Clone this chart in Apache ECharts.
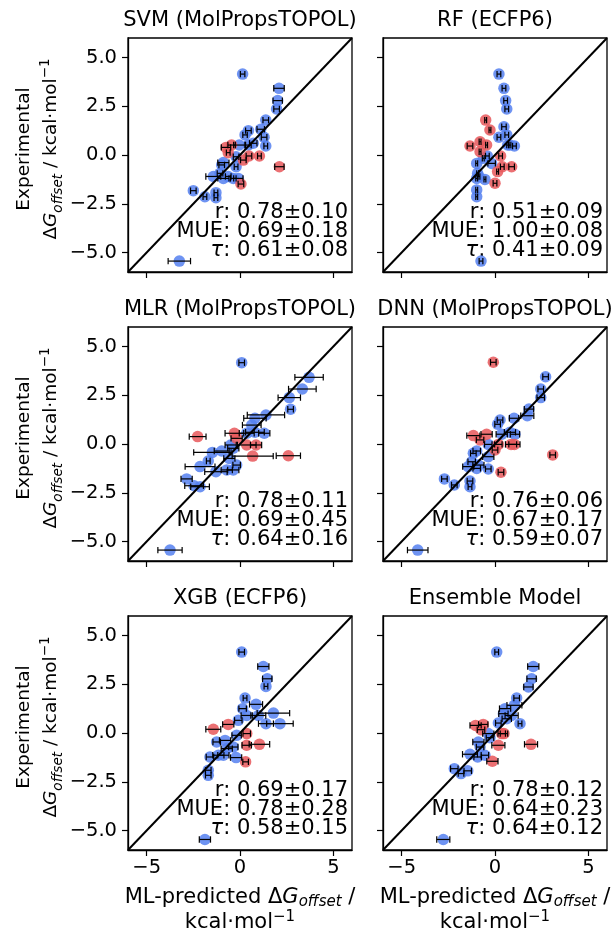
<!DOCTYPE html>
<html><head><meta charset="utf-8">
<script src="https://cdn.jsdelivr.net/npm/echarts@6/dist/echarts.min.js"></script>
<style>html,body{margin:0;padding:0;background:#fff}#c{width:614px;height:931px}</style>
</head><body><div id="c"></div>
<script>
// ---------- data ----------
const axisRange = [-6, 6];
const xTicks = [-5, 0, 5];
const yTicks = [-5, -2.5, 0, 2.5, 5];
const diagonal = [[-6, -6], [6, 6]];
const panelTitles = ['SVM (MolPropsTOPOL)', 'RF (ECFP6)', 'MLR (MolPropsTOPOL)', 'DNN (MolPropsTOPOL)', 'XGB (ECFP6)', 'Ensemble Model'];
const statR   = ['0.78±0.10', '0.51±0.09', '0.78±0.11', '0.76±0.06', '0.69±0.17', '0.78±0.12'];
const statMUE = ['0.69±0.18', '1.00±0.08', '0.69±0.45', '0.67±0.17', '0.78±0.28', '0.64±0.23'];
const statTau = ['0.61±0.08', '0.41±0.09', '0.64±0.16', '0.59±0.07', '0.58±0.15', '0.64±0.12'];
// each point: [ML-predicted, experimental, x-error]
const svmBlue = [[0.14,4.15,0.12],[2.09,3.42,0.28],[2.02,2.79,0.25],[1.96,2.36,0.15],[1.38,1.79,0.15],[1.11,1.32,0.2],[0.45,1.25,0.15],[0.27,1.03,0.12],[1.29,0.91,0.15],[1.38,0.46,0.1],[0.71,0.60,0.2],[0.45,0.51,0.15],[-0.04,0.51,0.3],[-0.21,-0.09,0.15],[-0.89,-0.39,0.3],[-0.98,-0.51,0.15],[-0.21,-0.60,0.1],[-1.07,-0.94,0.15],[-0.89,-1.2,0.3],[-1.43,-1.1,0.4],[-0.63,-1.1,0.15],[-0.36,-1.2,0.15],[-0.09,-1.2,0.25],[-2.5,-1.83,0.15],[-1.88,-2.14,0.1],[-1.29,-1.93,0.1],[-1.29,-2.19,0.1],[-3.25,-5.44,0.6]];
const svmRed = [[-0.75,0.39,0.25],[-0.45,0.51,0.2],[-0.63,0.12,0.1],[0.18,-0.26,0.15],[0.48,-0.05,0.15],[1.04,-0.05,0.1],[2.11,-0.60,0.25],[0.05,-1.49,0.15]];
const rfBlue = [[0.21,4.15,0.1],[0.48,3.42,0.1],[0.57,2.79,0.1],[0.63,2.36,0.1],[0.48,1.45,0.12],[0.21,0.91,0.1],[0.63,1.03,0.1],[0.68,0.51,0.05],[1.04,0.46,0.1],[0.80,0.51,0.05],[-0.41,-0.05,0.1],[-0.63,-0.17,0.05],[-0.18,-0.43,0.2],[-0.98,-0.43,0.05],[-0.93,-0.94,0.05],[-0.98,-1.2,0.05],[-0.54,-1.25,0.05],[-0.98,-1.79,0.05],[-0.98,-2.14,0.05],[-0.75,-5.44,0.1],[-0.86,-1.1,0.05]];
const rfRed = [[-0.5,1.79,0.05],[-0.27,1.28,0.05],[-0.8,0.68,0.05],[-1.34,0.46,0.15],[-0.45,0.51,0.05],[-0.8,0.17,0.05],[0.30,-0.05,0.1],[0.89,-0.60,0.15],[0.39,-0.60,0.1],[0.14,-0.85,0.05],[0,-1.45,0.1]];
const mlrBlue = [[0.09,4.17,0.15],[3.70,3.42,0.76],[3.34,2.82,0.74],[2.64,2.38,0.6],[2.71,1.78,0.15],[1.39,1.49,1.0],[0.80,1.32,0.6],[0.63,0.97,0.5],[0.36,0.55,0.4],[1.30,0.55,0.3],[0.80,0.6,0.5],[-0.5,-0.05,0.3],[-0.36,-0.22,0.3],[-0.98,-0.36,0.4],[-1.48,-0.43,1.0],[-1.7,-0.87,0.1],[-0.57,-0.74,0.3],[-2.14,-1.16,0.8],[-1.29,-1.42,0.6],[-0.71,-1.33,0.3],[-0.36,-1.33,0.3],[-0.18,-1.08,0.2],[-2.86,-1.79,0.3],[-2.46,-2.14,0.5],[-2.14,-2.19,0.5],[-3.75,-5.44,0.65]];
const mlrRed = [[-2.27,0.38,0.45],[-0.30,0.55,0.5],[-0.18,0.29,0.3],[0.36,-0.05,0.5],[0.86,-0.05,0.3],[0.68,-0.62,1.1],[2.59,-0.6,0.65]];
const dnnBlue = [[2.71,3.45,0.15],[2.45,2.82,0.15],[2.45,2.38,0.2],[1.82,1.79,0.25],[1.73,1.45,0.35],[1.02,1.32,0.25],[0.27,1.23,0.15],[0.14,1.01,0.15],[1.07,0.50,0.25],[0.80,0.6,0.3],[0.36,0.50,0.3],[-0.36,-0.02,0.2],[-0.98,-0.36,0.2],[-1.16,-0.48,0.15],[-0.36,-0.65,0.3],[-1.25,-0.91,0.2],[-1.43,-1.16,0.3],[-0.98,-1.25,0.2],[-0.36,-1.28,0.15],[-2.71,-1.79,0.15],[-2.18,-2.1,0.15],[-1.34,-1.9,0.15],[-1.34,-2.19,0.1],[-4.14,-5.44,0.55],[-0.89,-1.08,0.3]];
const dnnRed = [[-0.09,4.19,0.15],[-1.16,0.43,0.35],[-0.45,0.50,0.3],[-0.8,0.21,0.2],[0.18,-0.02,0.2],[0,-0.31,0.15],[0.86,-0.02,0.3],[1.04,-0.02,0.3],[3.09,-0.56,0.15],[0.32,-1.45,0.15]];
const xgbBlue = [[0.09,4.15,0.15],[1.25,3.41,0.3],[1.46,2.78,0.25],[1.39,2.39,0.1],[0.27,1.79,0.1],[0.86,1.47,0.35],[0.14,1.25,0.2],[1.79,1.02,0.87],[2.14,0.48,0.71],[1.39,0.48,0.4],[0.98,0.9,0.4],[0.36,0.9,0.3],[-0.09,0.65,0.2],[-0.18,-0.12,0.25],[-1.25,-0.46,0.2],[-0.8,-0.38,0.3],[-0.71,-0.8,0.3],[-0.36,-0.72,0.25],[-1.16,-1.14,0.3],[-1.61,-1.23,0.2],[-0.89,-1.14,0.3],[-0.21,-1.26,0.3],[-1.7,-1.91,0.15],[-1.7,-2.17,0.15],[-1.88,-5.46,0.3]];
const xgbRed = [[-1.43,0.19,0.4],[-0.63,0.44,0.3],[0.36,-0.03,0.2],[0.36,-0.63,0.25],[1.04,-0.58,0.55],[0.30,-1.48,0.15]];
const ensBlue = [[0.09,4.15,0.1],[2.05,3.41,0.3],[1.96,2.78,0.25],[1.79,2.36,0.25],[1.16,1.79,0.15],[1.04,1.42,0.4],[0.54,1.25,0.3],[0.45,0.99,0.25],[1.34,0.48,0.1],[0.89,0.9,0.35],[0.63,0.73,0.25],[0.18,0.51,0.15],[-0.36,-0.03,0.3],[-0.27,-0.24,0.2],[-0.89,-0.46,0.3],[-0.8,-0.72,0.2],[-1.34,-1.09,0.4],[-0.93,-1.23,0.2],[-0.54,-1.14,0.2],[-2.18,-1.83,0.2],[-1.82,-2.08,0.15],[-1.46,-1.94,0.2],[-2.77,-5.46,0.35]];
const ensRed = [[-1.04,0.39,0.3],[-0.63,0.44,0.25],[-0.75,0.17,0.2],[0.36,-0.03,0.2],[0.48,-0.03,0.2],[0.18,-0.63,0.35],[1.93,-0.58,0.35],[-0.14,-1.45,0.3]];

// ---------- layout / style ----------
const blueSets = [svmBlue, rfBlue, mlrBlue, dnnBlue, xgbBlue, ensBlue];
const redSets = [svmRed, rfRed, mlrRed, dnnRed, xgbRed, ensRed];
const FONT = 'DejaVu Sans';
const GL = [128, 383], GT = [38, 327, 616], GW = 224, GH = 234;
const BLUE = '#5580f0', RED = '#e8575a';
const minus = s => String(s).replace('-', '\u2212');

function makeRich(fs, sfs, lh) {
  return {
    d: {fontSize: fs, fontFamily: FONT, color: '#000', lineHeight: lh},
    g: {fontSize: fs, fontFamily: FONT, fontStyle: 'italic', color: '#000', lineHeight: lh},
    s: {fontSize: sfs, fontFamily: FONT, fontStyle: 'italic', color: '#000', lineHeight: sfs + 3, verticalAlign: 'bottom'},
    n: {fontSize: fs, fontFamily: FONT, color: '#000', lineHeight: lh},
    p: {fontSize: sfs, fontFamily: FONT, color: '#000', lineHeight: sfs + 3, verticalAlign: 'top'}
  };
}
const yName = 'Experimental\n{d|Δ}{g|G}{s|offset}{n| / kcal·mol}{p|\u22121}';
const xName = 'ML-predicted {d|Δ}{g|G}{s|offset}{n| /}\n{n|kcal·mol}{p|\u22121}';

function renderErr(params, api) {
  const x = api.value(0), y = api.value(1), e = api.value(2);
  const a = api.coord([x - e, y]), b = api.coord([x + e, y]);
  const c = 3.2, st = {stroke: '#000', lineWidth: 1.2};
  return {type: 'group', children: [
    {type: 'line', shape: {x1: a[0], y1: a[1], x2: b[0], y2: b[1]}, style: st},
    {type: 'line', shape: {x1: a[0], y1: a[1] - c, x2: a[0], y2: a[1] + c}, style: st},
    {type: 'line', shape: {x1: b[0], y1: b[1] - c, x2: b[0], y2: b[1] + c}, style: st}
  ]};
}

const grid = [], xAxis = [], yAxis = [], series = [], graphic = [];
for (let i = 0; i < 6; i++) {
  const row = Math.floor(i / 2), col = i % 2;
  const left = GL[col], top = GT[row];
  grid.push({left, top, width: GW, height: GH, containLabel: false, outerBoundsMode: 'none',
    show: true, borderColor: '#000', borderWidth: 1.3, backgroundColor: 'transparent'});
  xAxis.push({
    gridIndex: i, type: 'value', min: axisRange[0], max: axisRange[1],
    axisLine: {show: true, onZero: false, lineStyle: {color: '#000', width: 1.3}},
    axisTick: {show: true, customValues: xTicks, length: 6, lineStyle: {color: '#000', width: 1.2}},
    axisLabel: {show: row === 2, customValues: xTicks, margin: 8, fontSize: 19.5, fontFamily: FONT, color: '#000', formatter: v => minus(v)},
    splitLine: {show: false},
    name: row === 2 ? xName : '', nameLocation: 'middle', nameGap: 35,
    nameTextStyle: {fontSize: 21, fontFamily: FONT, color: '#000', lineHeight: 25, rich: makeRich(21, 15, 25)}
  });
  yAxis.push({
    gridIndex: i, type: 'value', min: axisRange[0], max: axisRange[1],
    axisLine: {show: true, onZero: false, lineStyle: {color: '#000', width: 1.3}},
    axisTick: {show: true, customValues: yTicks, length: 6, lineStyle: {color: '#000', width: 1.2}},
    axisLabel: {show: col === 0, customValues: yTicks, margin: 11, fontSize: 19.5, fontFamily: FONT, color: '#000', formatter: v => minus(Number(v).toFixed(1))},
    splitLine: {show: false},
    name: col === 0 ? yName : '', nameLocation: 'middle', nameGap: 63, nameRotate: 90,
    nameTextStyle: {fontSize: 18.5, fontFamily: FONT, color: '#000', lineHeight: 27, padding: [0, 0, 0, 12], rich: makeRich(18.5, 13.5, 27)}
  });
  const sets = [[blueSets[i], BLUE], [redSets[i], RED]];
  sets.forEach(([d, col2]) => {
    series.push({type: 'scatter', xAxisIndex: i, yAxisIndex: i, data: d.map(p => [p[0], p[1]]), symbolSize: 11.5,
      itemStyle: {color: col2, opacity: 0.85}, z: 2, silent: true});
  });
  sets.forEach(([d]) => {
    series.push({type: 'custom', xAxisIndex: i, yAxisIndex: i, data: d, renderItem: renderErr,
      encode: {x: 0, y: 1}, z: 3, silent: true});
  });
  series.push({type: 'line', xAxisIndex: i, yAxisIndex: i, data: diagonal, symbol: 'none',
    lineStyle: {color: '#000', width: 2}, z: 4, silent: true});

  graphic.push({type: 'text', x: left + GW / 2, y: top - 7, style: {text: panelTitles[i], textAlign: 'center', textVerticalAlign: 'bottom', fontSize: 21, fontFamily: FONT, fill: '#000'}});
  const sx = left + GW - 4;
  const lines = ['r: ' + statR[i], 'MUE: ' + statMUE[i], '{t|τ}: ' + statTau[i]];
  const offs = [185, 204.3, 223];
  lines.forEach((t, k) => {
    graphic.push({type: 'text', x: sx, y: top + offs[k], style: {text: t, textAlign: 'right', textVerticalAlign: 'bottom', fontSize: 21, fontFamily: FONT, fill: '#000',
      rich: {t: {fontSize: 21, fontFamily: FONT, fontStyle: 'italic', fill: '#000'}}}});
  });
}

const chart = echarts.init(document.getElementById('c'), null, {renderer: 'canvas'});
chart.setOption({animation: false, backgroundColor: '#fff', grid, xAxis, yAxis, series, graphic});
</script></body></html>
